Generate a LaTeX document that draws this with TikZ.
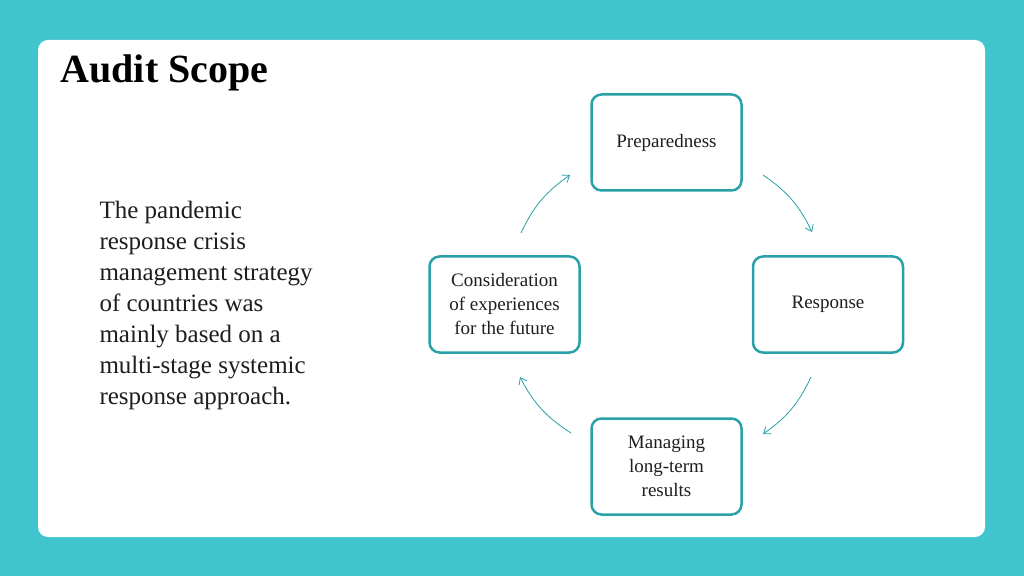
\documentclass[tikz,border=0pt]{standalone}
\usepackage{fontspec}
\setmainfont{Liberation Serif}
\usetikzlibrary{positioning,arrows.meta}
\definecolor{pageteal}{RGB}{64,196,206}
\definecolor{boxteal}{RGB}{42,160,168}
\definecolor{inktext}{RGB}{30,30,30}
\begin{document}
\begin{tikzpicture}[x=1pt, y=1pt,
    stage/.style={rectangle, rounded corners=10pt, draw=boxteal, line width=2.5pt, fill=white,
      minimum width=150pt, minimum height=96pt, align=center, text=inktext, font=\fontsize{19}{24}\selectfont},
    cycle/.style={draw=boxteal, line width=0.8pt, -{Straight Barb[length=6pt, width=9pt]}}
]
% background and card
\fill[pageteal] (0,0) rectangle (1024,576);
\fill[white, rounded corners=10pt] (38,39) rectangle (985,536);
\useasboundingbox (0,0) rectangle (1024,576);

% title and text
\node[anchor=west, font=\fontsize{40}{44}\selectfont\bfseries, text=black] (title) at (57,503) {Audit Scope};
\node[anchor=north west, align=left, text=inktext, font=\fontsize{25}{31}\selectfont] (desc) at (96,378)
  {The pandemic\\response crisis\\management strategy\\of countries was\\mainly based on a\\multi-stage systemic\\response approach.};

% stages
\node[stage] (prep) at (666.5,433.5) {Preparedness};
\node[stage] (resp) at (828,271.5) {Response};
\node[stage] (manage) at (666.5,109.5) {Managing\\long-term\\results};
\node[stage] (consid) at (504.5,271.5) {Consideration\\of experiences\\for the future};

% arrow ends
\coordinate (a1) at (763,401);
\coordinate (a2) at (812,344);
\coordinate (b1) at (811,199);
\coordinate (b2) at (763,142);
\coordinate (c1) at (571,143);
\coordinate (c2) at (520,199);
\coordinate (d1) at (521,343);
\coordinate (d2) at (570,401);

\draw[cycle] (a1) to[bend left=15] (a2);
\draw[cycle] (b1) to[bend left=15] (b2);
\draw[cycle] (c1) to[bend left=15] (c2);
\draw[cycle] (d1) to[bend left=15] (d2);
\end{tikzpicture}
\end{document}
